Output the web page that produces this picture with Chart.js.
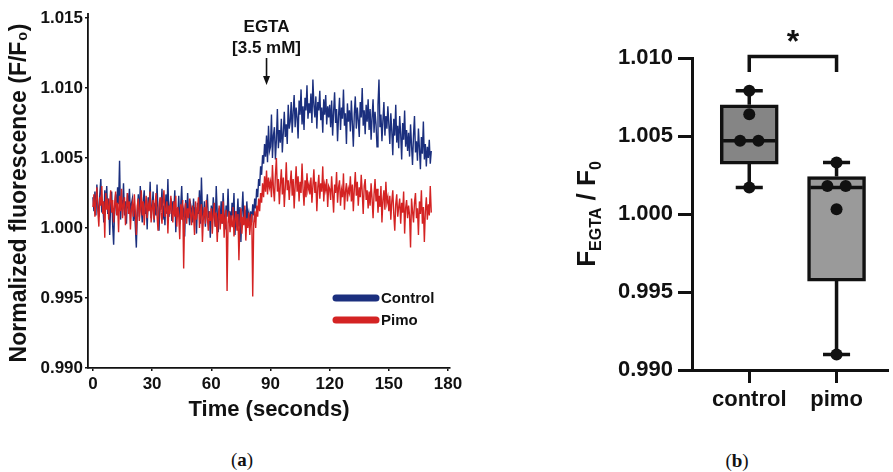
<!DOCTYPE html>
<html>
<head>
<meta charset="utf-8">
<title>EGTA fluorescence</title>
<script src="https://cdn.jsdelivr.net/npm/chart.js@4.4.0/dist/chart.umd.min.js"></script>
<style>
    body { margin: 0; width: 893px; height: 472px; overflow: hidden; position: relative; background: #fff; }
    #traceWrap { position: absolute; left: 0; top: 0; width: 470px; height: 430px; }
    #boxWrap { position: absolute; left: 560px; top: 0; width: 333px; height: 430px; }
    .panel-tag { position: absolute; font-family: "Liberation Serif", "DejaVu Serif", serif; font-size: 19px; color: #111; transform: translate(-50%, -50%); }
</style>
</head>
<body>
<div id="traceWrap"><canvas id="traceChart"></canvas></div>
<div id="boxWrap"><canvas id="boxChart"></canvas></div>
<div class="panel-tag" style="left:242px; top:460px;">(<b>a</b>)</div>
<div class="panel-tag" style="left:737px; top:461px;">(<b>b</b>)</div>

<script>
// ---- panel (a): traces, one sample every 0.5 s ----
const SAMPLE_STEP = 0.5;
const EGTA_TIME = 88;
const timeTicks = [0, 30, 60, 90, 120, 150, 180];
const fluoTicks = [0.990, 0.995, 1.000, 1.005, 1.010, 1.015];

const controlTrace = [
    1.0022, 1.0012, 1.0026, 1.0009, 1.0031, 1.0015, 1.0008, 1.0024, 1.0035, 1.0011, 1.0019, 1.0004, 1.0027, 1.0016, 1.0030, 1.0010, 1.0021, 0.9995, 1.0018, 1.0026,
    1.0002, 0.9988, 1.0014, 1.0024, 1.0010, 1.0029, 1.0017, 1.0048, 1.0006, 1.0020, 1.0013, 1.0032, 1.0009, 1.0019, 1.0003, 1.0025, 1.0014, 1.0028, 1.0011, 1.0017,
    1.0021, 1.0005, 1.0016, 1.0001, 0.9986, 1.0012, 1.0024, 1.0008, 1.0030, 1.0015, 1.0004, 1.0019, 1.0027, 1.0010, 1.0017, 0.9999, 1.0022, 1.0013, 1.0033, 1.0007,
    1.0015, 1.0026, 1.0004, 1.0018, 1.0009, 1.0031, 1.0011, 0.9998, 1.0020, 1.0013, 1.0028, 1.0006, 1.0016, 1.0002, 1.0024, 1.0010, 1.0035, 1.0008, 1.0014, 1.0021,
    1.0005, 1.0019, 1.0012, 1.0027, 0.9997, 1.0014, 1.0008, 1.0023, 1.0003, 1.0016, 1.0030, 1.0009, 1.0013, 0.9994, 1.0020, 1.0007, 1.0025, 1.0011, 1.0002, 1.0017,
    1.0013, 1.0004, 1.0021, 1.0008, 1.0015, 0.9996, 1.0018, 1.0010, 1.0027, 1.0003, 1.0036, 1.0011, 1.0006, 1.0019, 1.0001, 1.0014, 1.0024, 1.0007, 1.0012, 0.9993,
    1.0016, 1.0005, 1.0022, 1.0009, 1.0001, 1.0030, 1.0011, 0.9997, 1.0014, 1.0006, 1.0019, 1.0003, 1.0025, 1.0010, 0.9999, 1.0016, 1.0008, 1.0028, 1.0004, 1.0012,
    1.0002, 1.0018, 1.0009, 1.0025, 0.9995, 1.0012, 1.0006, 1.0021, 1.0001, 1.0015, 0.9990, 1.0010, 1.0026, 1.0004, 1.0013, 0.9998, 1.0019, 1.0007, 1.0011, 1.0003,
    1.0012, 1.0004, 1.0017, 1.0009, 1.0021, 1.0014, 1.0028, 1.0022, 1.0035, 1.0030, 1.0044, 1.0038, 1.0052, 1.0046, 1.0060, 1.0051, 1.0066, 1.0047, 1.0073, 1.0055,
    1.0058, 1.0081, 1.0050, 1.0066, 1.0072, 1.0049, 1.0063, 1.0085, 1.0057, 1.0070, 1.0061, 1.0078, 1.0054, 1.0068, 1.0083, 1.0065, 1.0074, 1.0060, 1.0088, 1.0071,
    1.0076, 1.0090, 1.0068, 1.0083, 1.0095, 1.0072, 1.0086, 1.0079, 1.0064, 1.0091, 1.0081, 1.0099, 1.0074, 1.0087, 1.0070, 1.0093, 1.0084, 1.0102, 1.0078, 1.0089,
    1.0082, 1.0096, 1.0075, 1.0106, 1.0088, 1.0079, 1.0094, 1.0071, 1.0090, 1.0084, 1.0098, 1.0077, 1.0086, 1.0068, 1.0092, 1.0081, 1.0095, 1.0074, 1.0087, 1.0079,
    1.0088, 1.0072, 1.0091, 1.0066, 1.0083, 1.0097, 1.0075, 1.0085, 1.0062, 1.0080, 1.0093, 1.0070, 1.0086, 1.0078, 1.0099, 1.0073, 1.0082, 1.0060, 1.0089, 1.0076,
    1.0084, 1.0069, 1.0091, 1.0075, 1.0058, 1.0082, 1.0094, 1.0071, 1.0086, 1.0077, 1.0065, 1.0090, 1.0079, 1.0100, 1.0073, 1.0084, 1.0067, 1.0088, 1.0076, 1.0092,
    1.0070, 1.0085, 1.0063, 1.0079, 1.0092, 1.0068, 1.0083, 1.0074, 1.0058, 1.0088, 1.0106, 1.0072, 1.0081, 1.0062, 1.0077, 1.0090, 1.0066, 1.0080, 1.0071, 1.0087,
    1.0074, 1.0060, 1.0082, 1.0069, 1.0052, 1.0078, 1.0066, 1.0088, 1.0061, 1.0073, 1.0057, 1.0080, 1.0067, 1.0049, 1.0075, 1.0063, 1.0084, 1.0058, 1.0070, 1.0055,
    1.0068, 1.0051, 1.0074, 1.0059, 1.0045, 1.0066, 1.0080, 1.0054, 1.0062, 1.0048, 1.0071, 1.0057, 1.0042, 1.0065, 1.0053, 1.0076, 1.0049, 1.0060, 1.0044, 1.0058,
    1.0050, 1.0063, 1.0046, 1.0055
];

const pimoTrace = [
    1.0015, 1.0024, 1.0008, 1.0020, 1.0029, 1.0012, 1.0001, 1.0022, 1.0016, 1.0030, 1.0010, 1.0019, 0.9993, 1.0025, 1.0013, 1.0021, 1.0006, 1.0018, 1.0027, 1.0011,
    1.0020, 1.0004, 1.0016, 1.0026, 1.0009, 1.0018, 0.9997, 1.0023, 1.0012, 1.0028, 1.0007, 1.0017, 1.0022, 1.0002, 1.0014, 1.0025, 1.0010, 1.0019, 0.9999, 1.0013,
    1.0018, 1.0008, 1.0024, 1.0011, 0.9995, 1.0016, 1.0021, 1.0005, 1.0013, 1.0027, 1.0009, 1.0019, 1.0002, 1.0015, 1.0023, 1.0007, 1.0017, 1.0012, 1.0026, 1.0004,
    1.0014, 1.0020, 1.0006, 1.0017, 1.0025, 1.0009, 0.9998, 1.0015, 1.0022, 1.0011, 1.0003, 1.0018, 1.0027, 1.0008, 1.0013, 1.0019, 0.9996, 1.0016, 1.0010, 1.0023,
    1.0012, 1.0004, 1.0019, 1.0008, 1.0023, 1.0001, 1.0015, 1.0009, 0.9992, 1.0017, 1.0006, 1.0020, 0.9971, 1.0011, 1.0018, 1.0003, 1.0014, 1.0007, 1.0021, 1.0010,
    1.0002, 1.0016, 1.0009, 0.9995, 1.0019, 1.0006, 1.0013, 1.0022, 1.0000, 1.0011, 1.0017, 0.9990, 1.0008, 1.0015, 1.0003, 1.0020, 1.0007, 0.9998, 1.0012, 1.0005,
    1.0014, 0.9996, 1.0009, 1.0018, 1.0001, 1.0011, 0.9990, 1.0007, 1.0016, 0.9999, 1.0010, 1.0003, 1.0019, 0.9993, 1.0008, 1.0013, 0.9955, 1.0004, 1.0012, 0.9997,
    1.0009, 1.0001, 1.0015, 0.9994, 1.0006, 1.0012, 0.9998, 1.0010, 0.9977, 1.0004, 1.0014, 0.9996, 1.0008, 1.0002, 1.0016, 0.9991, 1.0007, 1.0000, 1.0011, 0.9995,
    1.0006, 1.0010, 0.9951, 1.0003, 1.0012, 1.0000, 1.0016, 1.0008, 1.0021, 1.0012, 1.0025, 1.0018, 1.0032, 1.0022, 1.0037, 1.0026, 1.0041, 1.0024, 1.0036, 1.0029,
    1.0033, 1.0022, 1.0045, 1.0028, 1.0019, 1.0038, 1.0050, 1.0026, 1.0035, 1.0017, 1.0031, 1.0042, 1.0024, 1.0036, 1.0015, 1.0029, 1.0047, 1.0027, 1.0034, 1.0020,
    1.0032, 1.0041, 1.0023, 1.0035, 1.0014, 1.0030, 1.0044, 1.0026, 1.0037, 1.0019, 1.0033, 1.0025, 1.0046, 1.0028, 1.0016, 1.0034, 1.0022, 1.0039, 1.0027, 1.0031,
    1.0024, 1.0036, 1.0018, 1.0030, 1.0042, 1.0025, 1.0033, 1.0012, 1.0029, 1.0038, 1.0021, 1.0032, 1.0026, 1.0044, 1.0019, 1.0031, 1.0027, 1.0035, 1.0015, 1.0030,
    1.0028, 1.0020, 1.0037, 1.0024, 1.0011, 1.0031, 1.0025, 1.0040, 1.0018, 1.0029, 1.0034, 1.0016, 1.0027, 1.0022, 1.0039, 1.0013, 1.0026, 1.0032, 1.0019, 1.0028,
    1.0025, 1.0037, 1.0019, 1.0031, 1.0012, 1.0028, 1.0040, 1.0023, 1.0033, 1.0016, 1.0029, 1.0022, 1.0038, 1.0026, 1.0010, 1.0030, 1.0035, 1.0020, 1.0027, 1.0014,
    1.0026, 1.0016, 1.0032, 1.0021, 1.0007, 1.0024, 1.0035, 1.0019, 1.0028, 1.0011, 1.0023, 1.0015, 1.0030, 1.0004, 1.0020, 1.0027, 1.0013, 1.0033, 1.0018, 1.0022,
    1.0012, 1.0023, 1.0006, 1.0019, 1.0027, 1.0010, 0.9998, 1.0017, 1.0024, 1.0008, 1.0015, 1.0021, 1.0003, 1.0018, 1.0011, 1.0026, 0.9996, 1.0014, 1.0020, 1.0007,
    1.0016, 1.0009, 0.9986, 1.0021, 1.0012, 1.0004, 1.0018, 1.0025, 1.0007, 1.0014, 0.9995, 1.0019, 1.0010, 1.0027, 1.0003, 1.0015, 0.9990, 1.0012, 1.0022, 1.0006,
    1.0017, 1.0009, 1.0030, 1.0011
];

// ---- panel (b): box plot ----
const groupNames = ['control', 'pimo'];
const groupPoints = [
    [1.0079, 1.0064, 1.0047, 1.0047, 1.0017],
    [1.0033, 1.0018, 1.0018, 1.0003, 0.9910]
];
const boxQ1 = [1.0032, 0.9957];
const boxMedian = [1.0047, 1.0017];
const boxQ3 = [1.0070, 1.0024];
const ratioTicks = [0.990, 0.995, 1.000, 1.005, 1.010];
const sigBracket = { from: 1, to: 2, top: 1.0101, drop: 1.0091, label: '*' };

Chart.defaults.font.family = '"Liberation Sans", Arial, sans-serif';
Chart.defaults.color = '#111';

const BLUE = '#1b2f7e';
const RED = '#d42323';

function toXY(values) {
    return values.map((v, i) => ({ x: i * SAMPLE_STEP, y: v }));
}

// legend + EGTA arrow drawn on canvas
const traceExtras = {
    id: 'traceExtras',
    afterDraw(chart) {
        const ctx = chart.ctx;
        ctx.save();
        // y axis line runs a little above the top tick, as in the original
        ctx.strokeStyle = '#111';
        ctx.lineWidth = 1.8;
        ctx.beginPath();
        ctx.moveTo(chart.chartArea.left, chart.chartArea.top);
        ctx.lineTo(chart.chartArea.left, chart.chartArea.top - 5);
        ctx.stroke();
        // legend
        const entries = [chart.data.datasets[0], chart.data.datasets[1]];
        entries.forEach((ds, i) => {
            const y = 298 + i * 22;
            ctx.strokeStyle = ds.borderColor;
            ctx.lineWidth = 7;
            ctx.lineCap = 'round';
            ctx.beginPath();
            ctx.moveTo(336, y);
            ctx.lineTo(376, y);
            ctx.stroke();
            ctx.fillStyle = '#111';
            ctx.font = 'bold 15px "Liberation Sans", Arial, sans-serif';
            ctx.textAlign = 'left';
            ctx.textBaseline = 'middle';
            ctx.fillText(ds.label, 381, y + 1);
        });
        // EGTA annotation
        const xp = chart.scales.x.getPixelForValue(EGTA_TIME);
        ctx.fillStyle = '#111';
        ctx.font = 'bold 17px "Liberation Sans", Arial, sans-serif';
        ctx.textAlign = 'center';
        ctx.textBaseline = 'middle';
        ctx.fillText('EGTA', xp, 27);
        ctx.fillText('[3.5 mM]', xp, 48);
        ctx.strokeStyle = '#111';
        ctx.lineWidth = 1.6;
        ctx.lineCap = 'butt';
        ctx.beginPath();
        ctx.moveTo(xp, 58);
        ctx.lineTo(xp, 78);
        ctx.stroke();
        ctx.beginPath();
        ctx.moveTo(xp - 3.5, 76);
        ctx.lineTo(xp + 3.5, 76);
        ctx.lineTo(xp, 85);
        ctx.closePath();
        ctx.fill();
        ctx.restore();
    }
};

new Chart(document.getElementById('traceChart'), {
    type: 'line',
    data: {
        datasets: [
            { label: 'Control', data: toXY(controlTrace), borderColor: BLUE, borderWidth: 1.4, pointRadius: 0, tension: 0, order: 1 },
            { label: 'Pimo', data: toXY(pimoTrace), borderColor: RED, borderWidth: 1.4, pointRadius: 0, tension: 0, order: 0 }
        ]
    },
    options: {
        responsive: true,
        maintainAspectRatio: false,
        animation: false,
        layout: { padding: { top: 18, right: 20, left: 0, bottom: 0 } },
        plugins: { legend: { display: false }, tooltip: { enabled: false } },
        scales: {
            x: {
                type: 'linear',
                min: -2.5,
                max: 181,
                afterBuildTicks: (scale) => { scale.ticks = timeTicks.map(v => ({ value: v })); },
                afterFit: (scale) => { scale.height = 62; },
                grid: { drawOnChartArea: false, drawTicks: true, tickLength: 3, color: '#111', lineWidth: 1.5 },
                border: { display: true, color: '#111', width: 1.8 },
                ticks: { font: { size: 17, weight: 'bold' }, padding: 3, maxRotation: 0, autoSkip: false },
                title: { display: true, text: 'Time (seconds)', font: { size: 22, weight: 'bold' }, padding: { top: 0, bottom: 7 } }
            },
            y: {
                min: 0.990,
                max: 1.015,
                afterBuildTicks: (scale) => { scale.ticks = fluoTicks.map(v => ({ value: v })); },
                afterFit: (scale) => { scale.width = 88; },
                grid: { drawOnChartArea: false, drawTicks: true, tickLength: 3, color: '#111', lineWidth: 1.5 },
                border: { display: true, color: '#111', width: 1.8 },
                ticks: { font: { size: 17, weight: 'bold' }, padding: 2, callback: v => v.toFixed(3) },
                title: { display: true, text: 'Normalized fluorescence (F/F₀)', font: { size: 23, weight: 'bold' }, padding: { top: 6, bottom: 0 } }
            }
        }
    },
    plugins: [traceExtras]
});

// ---- box plot pieces built from the arrays above ----
const CAP_HALF = 0.155;
const MEDIAN_HALF = 0.3;
const JITTER = 0.105;

const boxData = groupNames.map((g, i) => ({ x: i + 1, y: [boxQ1[i], boxQ3[i]] }));

const whiskerData = [];
const capData = [];
groupNames.forEach((g, i) => {
    const x = i + 1;
    const lo = Math.min(...groupPoints[i]);
    const hi = Math.max(...groupPoints[i]);
    whiskerData.push({ x, y: hi }, { x, y: boxQ3[i] }, { x, y: null },
                     { x, y: boxQ1[i] }, { x, y: lo }, { x, y: null });
    capData.push({ x: x - CAP_HALF, y: hi }, { x: x + CAP_HALF, y: hi }, { x, y: null },
                 { x: x - CAP_HALF, y: lo }, { x: x + CAP_HALF, y: lo }, { x, y: null },
                 { x: x - MEDIAN_HALF, y: boxMedian[i] }, { x: x + MEDIAN_HALF, y: boxMedian[i] }, { x, y: null });
});

// points with the same value sit side by side
const dotData = [];
groupPoints.forEach((pts, i) => {
    pts.forEach((v, j) => {
        const same = pts.filter(p => p === v).length;
        let dx = 0;
        if (same > 1) dx = pts.indexOf(v) === j ? -JITTER : JITTER;
        dotData.push({ x: i + 1 + dx, y: v });
    });
});

const bracketData = [
    { x: sigBracket.from, y: sigBracket.drop },
    { x: sigBracket.from, y: sigBracket.top },
    { x: sigBracket.to, y: sigBracket.top },
    { x: sigBracket.to, y: sigBracket.drop }
];

const boxExtras = {
    id: 'boxExtras',
    afterDraw(chart) {
        const ctx = chart.ctx;
        const xs = chart.scales.x, ys = chart.scales.y;
        ctx.save();
        // significance star
        ctx.fillStyle = '#111';
        ctx.font = 'bold 32px "Liberation Sans", Arial, sans-serif';
        ctx.textAlign = 'center';
        ctx.textBaseline = 'alphabetic';
        ctx.fillText(sigBracket.label, xs.getPixelForValue((sigBracket.from + sigBracket.to) / 2), ys.getPixelForValue(sigBracket.top) - 4);
        // y title  F_EGTA / F_0
        const parts = [
            { t: 'F', size: 26, sub: false },
            { t: 'EGTA', size: 16, sub: true },
            { t: ' / F', size: 26, sub: false },
            { t: '0', size: 16, sub: true }
        ];
        let total = 0;
        parts.forEach(p => {
            ctx.font = 'bold ' + p.size + 'px "Liberation Sans", Arial, sans-serif';
            p.w = ctx.measureText(p.t).width;
            total += p.w;
        });
        ctx.translate(35, (chart.chartArea.top + chart.chartArea.bottom) / 2);
        ctx.rotate(-Math.PI / 2);
        ctx.textAlign = 'left';
        let cx = -total / 2;
        parts.forEach(p => {
            ctx.font = 'bold ' + p.size + 'px "Liberation Sans", Arial, sans-serif';
            ctx.fillText(p.t, cx, p.sub ? 6 : 0);
            cx += p.w;
        });
        ctx.restore();
    }
};

new Chart(document.getElementById('boxChart'), {
    type: 'line',
    data: {
        datasets: [
            { type: 'line', data: whiskerData, borderColor: '#111', borderWidth: 3.5, pointRadius: 0, spanGaps: false, order: 5 },
            { type: 'bar', data: boxData, backgroundColor: ['#858585', '#9a9a9a'], borderColor: '#111', borderWidth: 3.5, borderSkipped: false, barThickness: 58, order: 4 },
            { type: 'line', data: capData, borderColor: '#111', borderWidth: 3.5, pointRadius: 0, spanGaps: false, order: 3 },
            { type: 'scatter', data: dotData, pointRadius: 6, pointBackgroundColor: '#111', pointBorderWidth: 0, order: 2 },
            { type: 'line', data: bracketData, borderColor: '#111', borderWidth: 3.5, pointRadius: 0, clip: false, order: 1 }
        ]
    },
    options: {
        responsive: true,
        maintainAspectRatio: false,
        animation: false,
        layout: { padding: { top: 58, right: 0, left: 0, bottom: 0 } },
        plugins: { legend: { display: false }, tooltip: { enabled: false } },
        scales: {
            x: {
                type: 'linear',
                offset: false,
                min: 0.344,
                max: 2.578,
                afterBuildTicks: (scale) => { scale.ticks = groupNames.map((g, i) => ({ value: i + 1 })); },
                afterFit: (scale) => { scale.height = 60; },
                grid: { drawOnChartArea: false, drawTicks: true, tickLength: 13, color: '#111', lineWidth: 3, offset: false },
                border: { display: true, color: '#111', width: 3 },
                ticks: { font: { size: 22, weight: 'bold' }, padding: 4, maxRotation: 0, autoSkip: false, callback: v => groupNames[Math.round(v) - 1] }
            },
            y: {
                min: 0.990,
                max: 1.010,
                afterBuildTicks: (scale) => { scale.ticks = ratioTicks.map(v => ({ value: v })); },
                afterFit: (scale) => { scale.width = 132; },
                grid: { drawOnChartArea: false, drawTicks: true, tickLength: 14, color: '#111', lineWidth: 3 },
                border: { display: true, color: '#111', width: 3 },
                ticks: { font: { size: 22, weight: 'bold' }, padding: 5, callback: v => v.toFixed(3) }
            }
        }
    },
    plugins: [boxExtras]
});
</script>
</body>
</html>
